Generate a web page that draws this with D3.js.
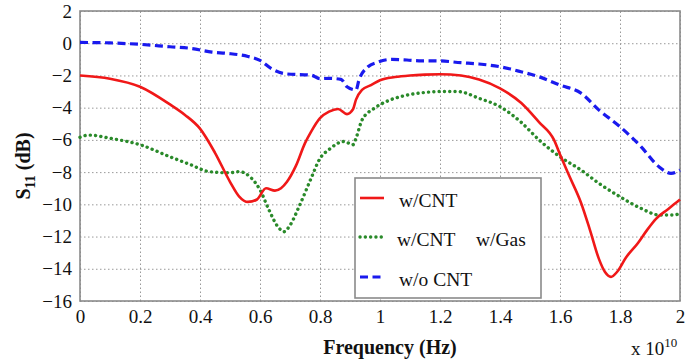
<!DOCTYPE html>
<html>
<head>
<meta charset="utf-8">
<script src="https://cdn.jsdelivr.net/npm/d3@7"></script>
<style>
  body { margin: 0; background: #fff; }
  .grid line { stroke: #999; stroke-dasharray: 1.5,2.5; stroke-width: 1; }
  .grid .domain { display: none; }
</style>
</head>
<body>
<svg id="chart" width="697" height="363"></svg>
<script>
// frequency in units of 1e10 Hz, S11 in dB
var cntFreq = [0, 0.1, 0.2, 0.3, 0.35, 0.4, 0.45, 0.5, 0.53, 0.56, 0.59, 0.62, 0.65, 0.67, 0.69, 0.72, 0.75, 0.77, 0.8, 0.83, 0.86, 0.89, 0.91, 0.92, 0.94, 0.97, 1.0, 1.05, 1.1, 1.15, 1.2, 1.27, 1.33, 1.4, 1.47, 1.53, 1.58, 1.6, 1.63, 1.67, 1.7, 1.73, 1.75, 1.77, 1.79, 1.82, 1.86, 1.89, 1.92, 1.96, 1.98, 2.0];
var cntS11  = [-2.0, -2.2, -2.7, -3.8, -4.45, -5.3, -6.8, -8.6, -9.5, -9.85, -9.7, -9.0, -9.15, -9.0, -8.6, -7.6, -6.2, -5.5, -4.65, -4.25, -4.08, -4.4, -4.1, -3.5, -2.9, -2.6, -2.3, -2.1, -2.0, -1.95, -1.93, -2.0, -2.25, -2.8, -3.7, -4.9, -6.0, -6.9, -8.2, -9.9, -11.6, -13.4, -14.2, -14.5, -14.2, -13.3, -12.4, -11.6, -10.9, -10.3, -10.0, -9.7];

var gasFreq = [0, 0.03, 0.1, 0.2, 0.3, 0.37, 0.43, 0.5, 0.53, 0.57, 0.6, 0.63, 0.66, 0.68, 0.7, 0.73, 0.77, 0.8, 0.83, 0.88, 0.91, 0.92, 0.94, 0.98, 1.02, 1.08, 1.13, 1.2, 1.26, 1.33, 1.4, 1.47, 1.53, 1.6, 1.67, 1.73, 1.8, 1.87, 1.93, 1.98, 2.0];
var gasS11  = [-5.84, -5.7, -5.9, -6.3, -7.05, -7.55, -7.97, -8.04, -7.97, -8.35, -9.1, -10.35, -11.4, -11.7, -11.3, -10.15, -8.4, -7.15, -6.6, -6.1, -6.3, -5.9, -4.77, -4.05, -3.63, -3.26, -3.1, -3.0, -3.0, -3.42, -3.94, -4.9, -6.0, -7.05, -7.87, -8.7, -9.53, -10.25, -10.66, -10.66, -10.56];

var noCntFreq = [0, 0.1, 0.2, 0.3, 0.37, 0.44, 0.49, 0.56, 0.6, 0.64, 0.69, 0.77, 0.8, 0.83, 0.87, 0.89, 0.92, 0.93, 0.96, 0.99, 1.04, 1.09, 1.13, 1.2, 1.27, 1.33, 1.4, 1.47, 1.53, 1.6, 1.67, 1.73, 1.8, 1.87, 1.93, 1.97, 2.0];
var noCntS11  = [0.05, 0.02, -0.07, -0.22, -0.32, -0.55, -0.63, -0.82, -1.06, -1.6, -1.91, -1.98, -2.2, -2.18, -2.24, -2.7, -2.9, -2.28, -1.46, -1.19, -1.0, -1.04, -1.09, -1.1, -1.21, -1.29, -1.46, -1.77, -2.08, -2.6, -3.1, -4.15, -5.18, -6.42, -7.67, -8.08, -7.87];

var xTicks = [0, 0.2, 0.4, 0.6, 0.8, 1, 1.2, 1.4, 1.6, 1.8, 2];
var yTicks = [2, 0, -2, -4, -6, -8, -10, -12, -14, -16];

var seriesNames = ["w/CNT", "w/CNT", "w/o CNT"];

var svg = d3.select("#chart");
var margin = { top: 11, right: 17, bottom: 62, left: 80 };
var width = 697 - margin.left - margin.right;
var height = 363 - margin.top - margin.bottom;

var xScale = d3.scaleLinear().domain([0, 2]).range([margin.left, margin.left + width]);
var yScale = d3.scaleLinear().domain([-16, 2]).range([margin.top + height, margin.top]);

// gridlines
svg.append("g")
    .attr("class", "grid")
    .attr("transform", "translate(0," + (margin.top + height) + ")")
    .call(d3.axisBottom(xScale).tickValues(xTicks).tickSize(-height).tickFormat(""));

svg.append("g")
    .attr("class", "grid")
    .attr("transform", "translate(" + margin.left + ",0)")
    .call(d3.axisLeft(yScale).tickValues(yTicks).tickSize(-width).tickFormat(""));

// frame
svg.append("rect")
    .attr("x", margin.left).attr("y", margin.top)
    .attr("width", width).attr("height", height)
    .attr("fill", "none").attr("stroke", "#8a8a8a").attr("stroke-width", 1.6);

// axis labels
var xAxis = svg.append("g")
    .attr("transform", "translate(0," + (margin.top + height) + ")")
    .call(d3.axisBottom(xScale).tickValues(xTicks).tickSize(0).tickPadding(9)
        .tickFormat(function (d) { return d3.format("~g")(d); }));
xAxis.select(".domain").remove();
xAxis.selectAll("text").style("font-size", "19px");

var yAxis = svg.append("g")
    .attr("transform", "translate(" + margin.left + ",0)")
    .call(d3.axisLeft(yScale).tickValues(yTicks).tickSize(0).tickPadding(8));
yAxis.select(".domain").remove();
yAxis.selectAll("text").style("font-size", "19px");

// titles
svg.append("text")
    .attr("x", 390).attr("y", 354)
    .attr("text-anchor", "middle")
    .style("font-size", "20px").style("font-weight", "bold")
    .text("Frequency (Hz)");

var expo = svg.append("text")
    .attr("x", 631).attr("y", 355)
    .style("font-size", "19px");
expo.append("tspan").text("x 10");
expo.append("tspan").attr("dy", -8).style("font-size", "13px").text("10");

var yTitle = svg.append("text")
    .attr("transform", "translate(30,166) rotate(-90)")
    .attr("text-anchor", "middle")
    .style("font-size", "20px").style("font-weight", "bold");
yTitle.append("tspan").text("S");
yTitle.append("tspan").attr("dy", 5).style("font-size", "14px").text("11");
yTitle.append("tspan").attr("dy", -5).text(" (dB)");

// curves
var line = d3.line()
    .x(function (d) { return xScale(d[0]); })
    .y(function (d) { return yScale(d[1]); })
    .curve(d3.curveMonotoneX);

var styles = [
    { color: "#f01818", width: 2.6, dash: null, cap: "butt" },
    { color: "#2a8a2a", width: 3.4, dash: "0.1,5.2", cap: "round" },
    { color: "#1a1aee", width: 3.2, dash: "8,4.5", cap: "butt" }
];

var series = [
    d3.zip(cntFreq, cntS11),
    d3.zip(gasFreq, gasS11),
    d3.zip(noCntFreq, noCntS11)
];

var drawOrder = [1, 2, 0];
drawOrder.forEach(function (i) {
    svg.append("path")
        .datum(series[i])
        .attr("fill", "none")
        .attr("stroke", styles[i].color)
        .attr("stroke-width", styles[i].width)
        .attr("stroke-dasharray", styles[i].dash)
        .attr("stroke-linecap", styles[i].cap)
        .attr("stroke-linejoin", "round")
        .attr("d", line);
});

// legend
var legend = svg.append("g");
legend.append("rect")
    .attr("x", 355).attr("y", 178)
    .attr("width", 186).attr("height", 120)
    .attr("fill", "#fff").attr("stroke", "#8a8a8a").attr("stroke-width", 1.6);

var rowY = [198, 237, 277];
seriesNames.forEach(function (name, i) {
    legend.append("line")
        .attr("x1", 360).attr("x2", 384)
        .attr("y1", rowY[i]).attr("y2", rowY[i])
        .attr("stroke", styles[i].color)
        .attr("stroke-width", styles[i].width)
        .attr("stroke-dasharray", styles[i].dash)
        .attr("stroke-linecap", styles[i].cap);
    legend.append("text")
        .attr("x", i == 1 ? 397 : 399)
        .attr("y", rowY[i] + 9)
        .style("font-size", "19.5px")
        .text(name);
});
legend.append("text")
    .attr("x", 476).attr("y", rowY[1] + 9)
    .style("font-size", "19.5px")
    .text("w/Gas");

// serif font on every label
svg.selectAll("text")
    .attr("font-family", "Liberation Serif")
    .style("fill", "#111");
</script>
</body>
</html>
